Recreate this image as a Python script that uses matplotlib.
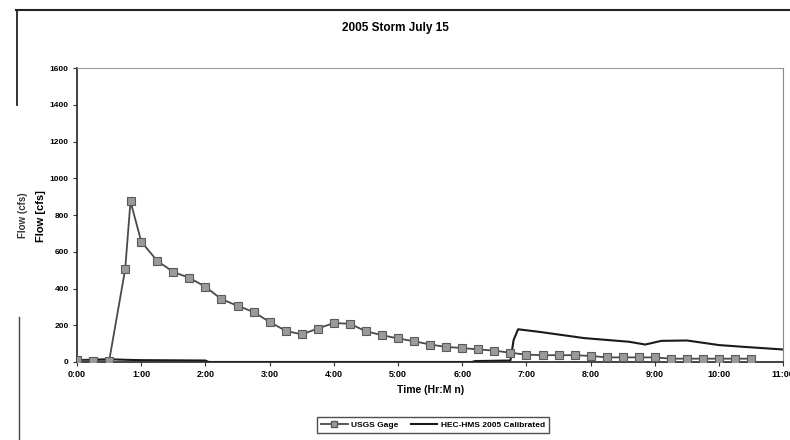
import matplotlib
matplotlib.use("Agg")
import matplotlib.pyplot as plt
from matplotlib.lines import Line2D

# USGS gage observed flow (hours, cfs)
usgs_time = [0, 0.25, 0.5, 0.75, 0.833, 1.0, 1.25, 1.5, 1.75, 2.0, 2.25, 2.5, 2.75,
             3.0, 3.25, 3.5, 3.75, 4.0, 4.25, 4.5, 4.75, 5.0, 5.25, 5.5, 5.75,
             6.0, 6.25, 6.5, 6.75, 7.0, 7.25, 7.5, 7.75, 8.0, 8.25, 8.5, 8.75,
             9.0, 9.25, 9.5, 9.75, 10.0, 10.25, 10.5]
usgs_flow = [10, 5, 5, 505, 875, 655, 550, 490, 458, 409, 342, 306, 272,
             218, 170, 150, 182, 212, 208, 167, 146, 128, 113, 95, 82,
             76, 68, 62, 50, 40, 37, 37, 37, 33, 25, 25, 25,
             25, 18, 18, 18, 18, 18, 18]

# HEC-HMS 2005 calibrated simulated flow (hours, cfs)
hms_time = [0, 0.5, 0.75, 1.0, 2.0, 2.05, 6.15, 6.2, 6.75, 6.8, 6.87, 7.2, 7.9,
            8.6, 8.85, 9.1, 9.5, 10.0, 10.4, 11.0]
hms_flow = [10, 15, 12, 10, 8, 0, 0, 5, 8, 120, 178, 164, 130,
            110, 95, 115, 117, 92, 82, 68]

y_ticks = [0, 200, 400, 600, 800, 1000, 1200, 1400, 1600]
x_ticks = list(range(0, 12))
x_labels = [f"{h}:00" for h in x_ticks]

FONT = "Liberation Sans"

fig = plt.figure(figsize=(7.9, 4.4), dpi=100)
ax = fig.add_axes([0.0975, 0.1773, 0.894, 0.668])

ax.plot(usgs_time, usgs_flow, color="#4a4a4a", lw=1.3, marker="s", markersize=5.6,
        markerfacecolor="#9a9a9a", markeredgecolor="#5a5a5a", markeredgewidth=0.8,
        label="USGS Gage", zorder=3)
ax.plot(hms_time, hms_flow, color="#1a1a1a", lw=1.5, label="HEC-HMS 2005 Calibrated",
        zorder=2)

ax.set_xlim(0, 11)
ax.set_ylim(0, 1600)
ax.set_yticks(y_ticks)
ax.set_yticklabels([str(v) for v in y_ticks], fontsize=6, fontweight="bold",
                   family=FONT)
ax.set_xticks(x_ticks)
ax.set_xticklabels(x_labels, fontsize=6.5, fontweight="bold", family=FONT)
ax.tick_params(axis="both", length=3, width=0.8, color="#333333", pad=3)

ax.spines["left"].set_color("#222222")
ax.spines["left"].set_linewidth(1.2)
ax.spines["bottom"].set_color("#222222")
ax.spines["bottom"].set_linewidth(1.2)
ax.spines["top"].set_color("#999999")
ax.spines["top"].set_linestyle((0, (2, 1)))
ax.spines["top"].set_linewidth(0.8)
ax.spines["right"].set_color("#888888")
ax.spines["right"].set_linewidth(0.8)

fig.text(0.5, 0.936, "2005 Storm July 15", ha="center", va="center",
         fontsize=8.5, fontweight="bold", family=FONT)
ax.set_xlabel("Time (Hr:M n)", fontsize=7.5, fontweight="bold", family=FONT,
              labelpad=4)
fig.text(0.029, 0.51, "Flow (cfs)", rotation=90, ha="center", va="center",
         fontsize=7, fontweight="bold", family=FONT, color="#333333")
fig.text(0.052, 0.51, "Flow [cfs]", rotation=90, ha="center", va="center",
         fontsize=8, fontweight="heavy", family=FONT)

# legend
handles = [Line2D([0], [0], color="#4a4a4a", lw=1.3, marker="s", markersize=4,
                  markerfacecolor="#9a9a9a", markeredgecolor="#5a5a5a"),
           Line2D([0], [0], color="#1a1a1a", lw=1.5)]
leg = fig.legend(handles, ["USGS Gage", "HEC-HMS 2005 Calibrated"], loc="center",
                 bbox_to_anchor=(0.548, 0.0335), ncol=2, frameon=True, fancybox=False,
                 prop={"family": FONT, "weight": "bold", "size": 6},
                 handlelength=3.2, columnspacing=1.5, borderpad=0.5,
                 handletextpad=0.4)
leg.get_frame().set_edgecolor("#222222")
leg.get_frame().set_linewidth(1.0)

# scanned page frame
fig.add_artist(Line2D([16 / 790, 1.0], [1 - 10 / 440, 1 - 10 / 440],
                      color="#222222", lw=1.5, transform=fig.transFigure))
fig.add_artist(Line2D([17 / 790, 17 / 790], [1 - 10 / 440, 1 - 105 / 440],
                      color="#222222", lw=1.3, transform=fig.transFigure))
fig.add_artist(Line2D([19 / 790, 19 / 790], [1 - 317 / 440, 0.0],
                      color="#444444", lw=1.0, transform=fig.transFigure))

fig.savefig("out.png", dpi=100)
